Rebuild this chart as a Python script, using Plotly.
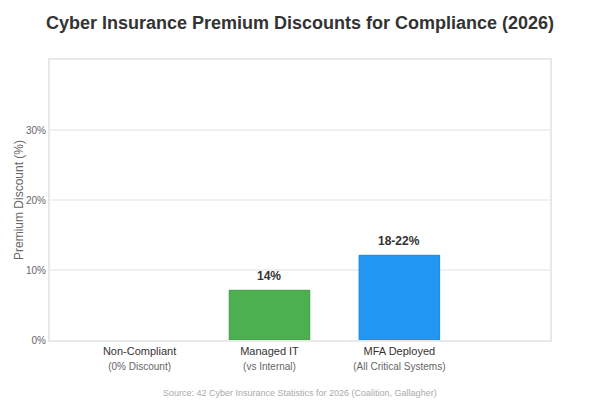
import plotly.graph_objects as go

categories = ["Non-Compliant", "Managed IT", "MFA Deployed"]
subtitles = ["(0% Discount)", "(vs Internal)", "(All Critical Systems)"]
values = [0, 7.1, 12.1]
labels = ["", "14%", "18-22%"]
colors = ["#9E9E9E", "#4CAF50", "#2196F3"]
line_colors = ["rgba(0,0,0,0)", "#3f9a43", "#1a86dc"]
y_ticks = [0, 10, 20, 30]
y_tick_text = ["0%", "10%", "20%", "30%"]

tick_text = [f"{c}<br><span style='font-size:10px;color:#666'>{s}</span>"
             for c, s in zip(categories, subtitles)]

fig = go.Figure(go.Bar(
    x=list(range(len(categories))), y=values,
    marker=dict(color=colors, line=dict(color=line_colors, width=1)),
    width=0.62, hoverinfo="skip",
))

annotations = []
for i, (v, lab) in enumerate(zip(values, labels)):
    if lab:
        annotations.append(dict(x=i, y=v, xref="x", yref="y", text=f"<b>{lab}</b>",
                                showarrow=False, yanchor="bottom", yshift=5,
                                font=dict(size=12, color="#333")))
annotations.append(dict(text="Source: 42 Cyber Insurance Statistics for 2026 (Coalition, Gallagher)",
                        xref="paper", yref="paper", x=0.5, y=-0.19, xanchor="center",
                        yanchor="middle", showarrow=False,
                        font=dict(size=9, color="#aaa")))

fig.update_layout(
    width=600, height=400,
    margin=dict(l=50, r=50, t=60, b=60),
    paper_bgcolor="white", plot_bgcolor="white",
    font=dict(family="Liberation Sans, Arial, sans-serif", color="#333"),
    title=dict(text="<b>Cyber Insurance Premium Discounts for Compliance (2026)</b>",
               x=0.5, xanchor="center", y=0.943, yanchor="middle",
               font=dict(size=18, color="#333")),
    showlegend=False,
    xaxis=dict(range=[-0.69, 3.16], tickvals=list(range(len(categories))),
               ticktext=tick_text, tickfont=dict(size=11, color="#333"),
               showgrid=False, showline=True, linecolor="#e8e8e8", linewidth=2,
               mirror=True, zeroline=False, ticks=""),
    yaxis=dict(range=[0, 40], tickvals=y_ticks, ticktext=y_tick_text,
               tickfont=dict(size=10, color="#666"),
               showgrid=True, gridcolor="#f0f0f0", gridwidth=1.5,
               showline=True, linecolor="#e8e8e8", linewidth=2, mirror=True,
               zeroline=False, ticks="",
               title=dict(text="Premium Discount (%)", font=dict(size=12, color="#666"),
                          standoff=0)),
    annotations=annotations,
)

fig.write_html("out.html")
